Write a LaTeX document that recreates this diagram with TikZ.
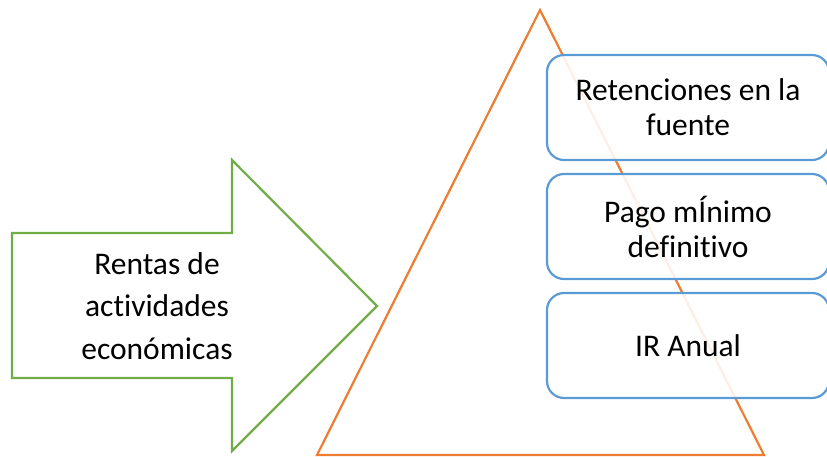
\documentclass[tikz,border=0pt]{standalone}
\usepackage{fontspec}
\setmainfont{Carlito}[Ligatures=NoCommon]
\definecolor{agreen}{HTML}{70AD47}
\definecolor{aorange}{HTML}{ED7D31}
\definecolor{ablue}{HTML}{5B9BD5}
\begin{document}
\begin{tikzpicture}[x=1pt,y=-1pt,
  boxstyle/.style={draw=ablue,line width=2.2pt,rounded corners=17pt,fill=white,fill opacity=0.88,text opacity=1,
    minimum width=282pt,minimum height=105pt,align=center,inner sep=0pt,
    font=\fontsize{31.5}{35}\selectfont},
  lbl/.style={align=center,inner sep=0pt,font=\fontsize{31.5}{42.5}\selectfont}]
\useasboundingbox (0,0) rectangle (827,456);
\clip (0,0) rectangle (827,456);
% arrow
\draw[agreen,line width=2.2pt,line join=miter]
  (12,233) -- (232,233) -- (232,160) -- (377,306) -- (232,451) -- (232,378) -- (12,378) -- cycle;
\node[lbl] (rentas) at (157,306) {Rentas de\\actividades\\económicas};
% triangle
\coordinate (apex) at (540,10);
\coordinate (bl) at (317,455);
\coordinate (br) at (764,455);
\draw[aorange,line width=2.2pt] (apex) -- (br) -- (bl) -- cycle;
% boxes
\node[boxstyle] (b1) at (688,107.5) {Retenciones en la\\fuente};
\node[boxstyle] (b2) at (688,226.5) {Pago mÍnimo\\definitivo};
\node[boxstyle] (b3) at (688,345.5) {IR Anual};
\end{tikzpicture}
\end{document}
